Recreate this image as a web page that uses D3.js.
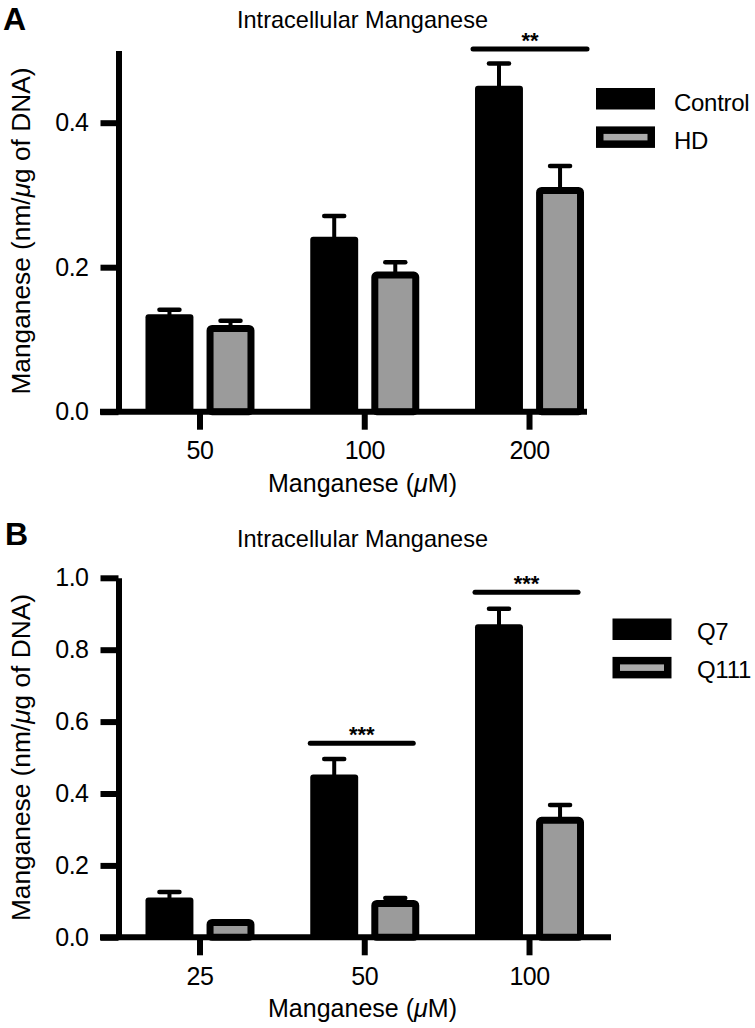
<!DOCTYPE html>
<html><head><meta charset="utf-8">
<script src="https://cdn.jsdelivr.net/npm/d3@7"></script>
<style>
body{margin:0;background:#fff}
text{font-family:"Liberation Sans",Arial,Helvetica,sans-serif;fill:#000}
</style>
</head><body><svg id="c" width="755" height="1028"></svg>
<script>
// ---------- Panel A data ----------
const catsA = ["50", "100", "200"];
const seriesA = ["Control", "HD"];
const controlA = [0.135, 0.242, 0.451];
const controlErrA = [0.006, 0.029, 0.031];
const hdA = [0.120, 0.194, 0.311];
const hdErrA = [0.006, 0.013, 0.029];
const yTicksA = [0.0, 0.2, 0.4];
const sigA = [{cat: "200", y: 0.502, label: "**"}];

// ---------- Panel B data ----------
const catsB = ["25", "50", "100"];
const seriesB = ["Q7", "Q111"];
const q7B = [0.111, 0.453, 0.871];
const q7ErrB = [0.015, 0.043, 0.043];
const q111B = [0.051, 0.104, 0.335];
const q111ErrB = [0.0, 0.005, 0.033];
const yTicksB = [0.0, 0.2, 0.4, 0.6, 0.8, 1.0];
const sigB = [{cat: "50", y: 0.54, label: "***"}, {cat: "100", y: 0.96, label: "***"}];

const titleText = "Intracellular Manganese";
const GRAY = "#9b9b9b";

const svg = d3.select("#c");

function panel(o) {
  const g = svg.append("g");
  const y = d3.scaleLinear().domain(o.yDomain).range([o.yBottom, o.yTop]);
  const x = d3.scaleBand().domain(o.cats).range([117.6, 611.9]);
  const xs = d3.scaleBand().domain(o.series).range([-54.5, 54.5]).paddingInner(0.215);
  const cx = c => x(c) + x.bandwidth() / 2;
  const vals = [o.v0, o.v1];
  const errs = [o.e0, o.e1];

  // bars
  o.series.forEach((s, si) => {
    o.cats.forEach((c, ci) => {
      const v = vals[si][ci], e = errs[si][ci];
      const bx = cx(c) + xs(s), bw = xs.bandwidth();
      const mid = bx + bw / 2;
      if (e > 0) {
        g.append("line").attr("x1", mid).attr("x2", mid)
          .attr("y1", y(v) + 2).attr("y2", y(v + e))
          .attr("stroke", "#000").attr("stroke-width", 4);
        g.append("line").attr("x1", mid - 10).attr("x2", mid + 10)
          .attr("y1", y(v + e)).attr("y2", y(v + e))
          .attr("stroke", "#000").attr("stroke-width", 4.5).attr("stroke-linecap", "round");
      }
      if (si === 0) {
        g.append("rect").attr("x", bx).attr("y", y(v)).attr("width", bw)
          .attr("height", y(0) - y(v)).attr("rx", 3).attr("fill", "#000");
      } else {
        g.append("rect").attr("x", bx + 3.5).attr("y", y(v) + 3.5).attr("width", bw - 7)
          .attr("height", y(0) - y(v) - 3.5).attr("rx", 2).attr("fill", GRAY)
          .attr("stroke", "#000").attr("stroke-width", 7);
      }
    });
  });

  // y axis
  const ya = g.append("g").attr("transform", "translate(118.5,0)")
    .call(d3.axisLeft(y).tickValues(o.yTicks).tickSize(18).tickSizeOuter(0)
      .tickPadding(12).tickFormat(d3.format(".1f")));
  ya.select(".domain").attr("stroke-width", 6);
  ya.selectAll(".tick line").attr("stroke-width", 6);
  ya.selectAll("text").attr("font-size", 25).attr("font-family", null).attr("letter-spacing", -0.5);

  // x axis
  const xa = g.append("g").attr("transform", `translate(0,${y(0)})`)
    .call(d3.axisBottom(x).tickSize(18).tickSizeOuter(0).tickPadding(12));
  xa.select(".domain").remove();
  xa.selectAll(".tick line").attr("stroke-width", 6);
  xa.selectAll("text").attr("font-size", 25).attr("font-family", null).attr("letter-spacing", -0.5);
  g.append("line").attr("x1", 100).attr("x2", o.xAxisEnd)
    .attr("y1", y(0)).attr("y2", y(0)).attr("stroke", "#000").attr("stroke-width", 6);

  // significance
  o.sig.forEach(sg => {
    const x1 = cx(sg.cat) + xs(o.series[0]) + o.sigPad[0];
    const x2 = cx(sg.cat) + xs(o.series[1]) + xs.bandwidth() + o.sigPad[1];
    g.append("line").attr("x1", x1).attr("x2", x2).attr("y1", y(sg.y)).attr("y2", y(sg.y))
      .attr("stroke", "#000").attr("stroke-width", 5).attr("stroke-linecap", "round");
    g.append("text").attr("x", (x1 + x2) / 2).attr("y", y(sg.y) - 1)
      .attr("text-anchor", "middle").attr("font-size", 22).attr("font-weight", "bold")
      .text(sg.label);
  });

  // legend
  o.series.forEach((s, i) => {
    const ly = o.legY + i * 38.4;
    g.append("rect").attr("x", o.legX).attr("y", ly).attr("width", 59).attr("height", 21.5).attr("fill", "#000");
    if (i === 1) {
      g.append("rect").attr("x", o.legX + 7.5).attr("y", ly + 7.5).attr("width", 44).attr("height", 6.5).attr("fill", "#ababab");
    }
    g.append("text").attr("x", o.legTextX).attr("y", ly + 21.5 + o.legDy)
      .attr("font-size", 24).attr("letter-spacing", -0.3).text(s);
  });

  // titles
  g.append("text").attr("x", 362.5).attr("y", o.titleY).attr("text-anchor", "middle")
    .attr("font-size", 24).attr("textLength", 251).attr("lengthAdjust", "spacingAndGlyphs")
    .text(titleText);
  g.append("text").attr("x", o.letterX).attr("y", o.letterY).attr("font-size", 32)
    .attr("font-weight", "bold").text(o.letter);

  const xt = g.append("text").attr("x", 362.5).attr("y", y(0) + 80).attr("text-anchor", "middle")
    .attr("font-size", 25).attr("textLength", 189).attr("lengthAdjust", "spacingAndGlyphs");
  xt.append("tspan").text("Manganese (");
  xt.append("tspan").attr("font-style", "italic").text("\u03bc");
  xt.append("tspan").text("M)");

  const yc = (y(o.yDomain[0]) + y(o.yDomain[1])) / 2;
  const yt = g.append("text").attr("transform", `translate(30,${yc}) rotate(-90)`)
    .attr("text-anchor", "middle").attr("font-size", 25)
    .attr("textLength", 327).attr("lengthAdjust", "spacingAndGlyphs");
  yt.append("tspan").text("Manganese (nm/");
  yt.append("tspan").attr("font-style", "italic").text("\u03bc");
  yt.append("tspan").text("g of DNA)");
}

panel({
  cats: catsA, series: seriesA, v0: controlA, v1: hdA, e0: controlErrA, e1: hdErrA,
  yDomain: [0, 0.5], yBottom: 411.7, yTop: 50.45, yTicks: yTicksA,
  xAxisEnd: 587, sig: sigA, sigPad: [-2, 3],
  legX: 596, legY: 88, legTextX: 674, legDy: 1,
  titleY: 28, letter: "A", letterX: 3, letterY: 30
});

panel({
  cats: catsB, series: seriesB, v0: q7B, v1: q111B, e0: q7ErrB, e1: q111ErrB,
  yDomain: [0, 1.0], yBottom: 937.3, yTop: 577.8, yTicks: yTicksB,
  xAxisEnd: 611, sig: sigB, sigPad: [0, -6],
  legX: 612.5, legY: 618.5, legTextX: 697, legDy: 0,
  titleY: 547, letter: "B", letterX: 5, letterY: 545
});
</script>
</body></html>
